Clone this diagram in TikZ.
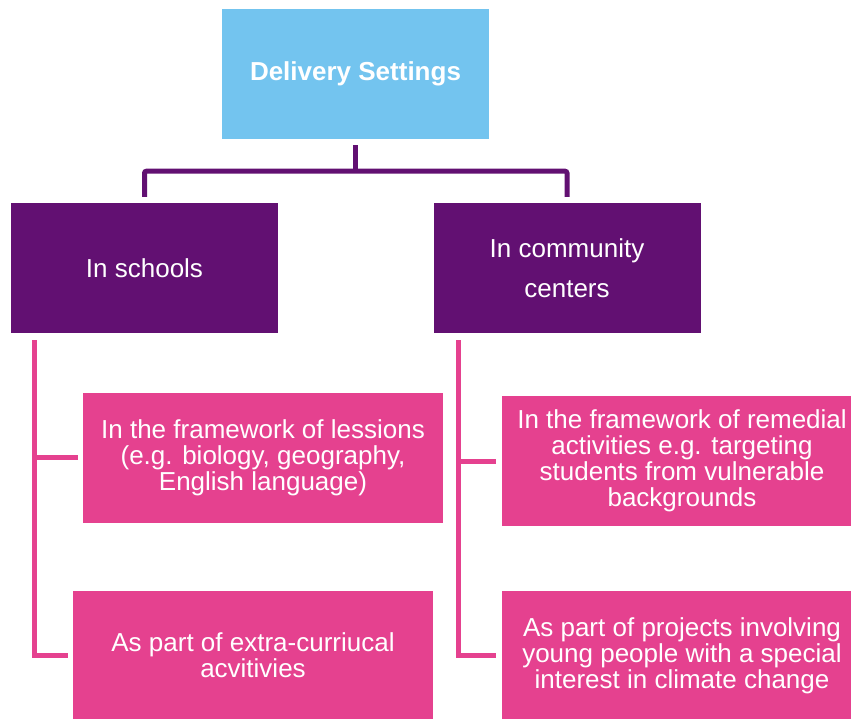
\documentclass[tikz,border=0pt]{standalone}
\usepackage{fontspec}
\setmainfont{Liberation Sans}
\usepackage{xcolor}
\usetikzlibrary{positioning}
\definecolor{skyblue}{HTML}{73C4EF}
\definecolor{deeppurple}{HTML}{621072}
\definecolor{hotpink}{HTML}{E5418F}
\tikzset{settingbox/.style={fill=#1, text=white, inner sep=0pt, align=center,
font=\fontsize{26}{26}\selectfont}}
\begin{document}
\begin{tikzpicture}[x=1pt, y=-1pt,
	headbox/.style={settingbox=skyblue, minimum width=267pt, minimum height=130pt, font=\fontsize{26}{26}\selectfont\bfseries},
	placebox/.style={settingbox=deeppurple, minimum width=267pt, minimum height=130pt, font=\fontsize{26}{40}\selectfont},
	waybox/.style={settingbox=hotpink, minimum width=360pt, minimum height=130pt},
	trunk/.style={draw=deeppurple, line width=5pt, rounded corners=2pt},
	branch/.style={draw=hotpink, line width=5pt}]
					\useasboundingbox (0,0) rectangle (851,719);
					\clip (0,0) rectangle (851,719);
					\node[headbox] (top) at (355.5,74) {Delivery Settings};
					\node[placebox] (schools) at (144.5,268) {In schools};
					\node[placebox] (community) at (567,268) {In community\\centers};
					\node[waybox] (lessons) at (263,457.5) {In the framework of lessions\\(e.g. biology, geography,\\English language)};
					\node[waybox] (extra) at (253,655.5) {As part of extra-curriucal\\acvitivies};
					\node[waybox] (remedial) at (682,461) {In the framework of remedial\\activities e.g. targeting\\students from vulnerable\\backgrounds};
					\node[waybox] (projects) at (682,655.5) {As part of projects involving\\young people with a special\\interest in climate change};
					\draw[trunk] ([yshift=-6pt]top.south) -- ++(0,26) coordinate (bar);
					\draw[trunk] ([yshift=6pt]schools.north) |- (bar) -| ([yshift=6pt]community.north);
					\coordinate (ltop) at ([xshift=24pt,yshift=-7pt]schools.south west);
					\coordinate (rtop) at ([xshift=25pt,yshift=-7pt]community.south west);
					\draw[branch] (ltop) |- ([xshift=-5pt]extra.west);
					\draw[branch] (ltop |- lessons.west) -- ([xshift=-5pt]lessons.west);
					\draw[branch] (rtop) |- ([xshift=-6pt]projects.west);
					\draw[branch] (rtop |- remedial.west) -- ([xshift=-6pt]remedial.west);
			\end{tikzpicture}
\end{document}
